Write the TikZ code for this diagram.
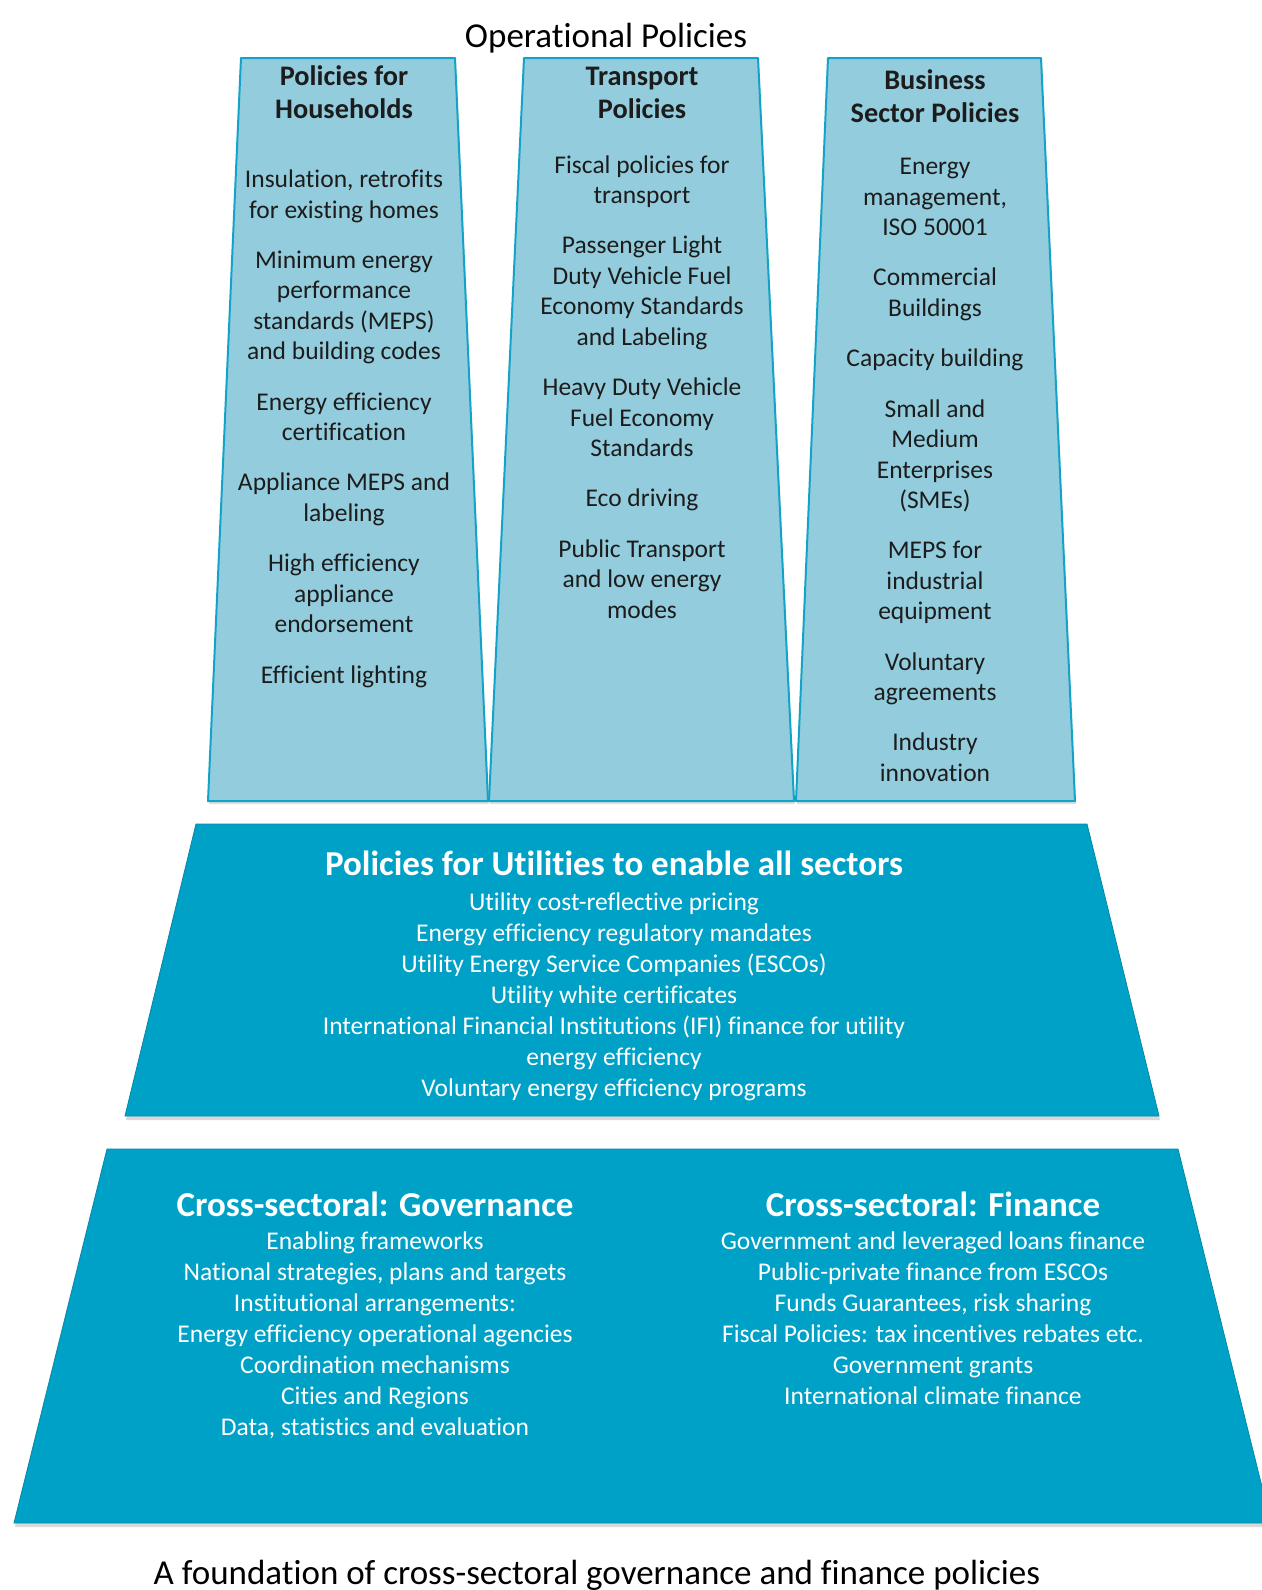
\documentclass[tikz,border=0pt]{standalone}
\usepackage{fontspec}
\setmainfont[Ligatures=NoCommon]{Carlito}
\usetikzlibrary{shadows}

\definecolor{paleteal}{RGB}{147,205,221}
\definecolor{edgeteal}{RGB}{20,163,200}
\definecolor{deepteal}{RGB}{0,161,198}
\definecolor{inkgray}{RGB}{28,28,28}

\tikzset{
  pillar/.style={fill=paleteal, draw=edgeteal, line width=2pt, line join=round,
    drop shadow={shadow xshift=1pt, shadow yshift=-3pt, opacity=.25}},
  slab/.style={fill=deepteal, draw=deepteal!85!black, line width=.8pt,
    drop shadow={shadow xshift=1pt, shadow yshift=-4pt, opacity=.3}},
  colhead/.style={align=center, inner sep=0pt, anchor=base, text=inkgray,
    font=\fontsize{28.3}{33.5}\selectfont\bfseries},
  colitems/.style={align=center, inner sep=0pt, anchor=base, text=inkgray,
    font=\fontsize{25.5}{30.5}\selectfont},
  slabhead/.style={align=center, inner sep=0pt, anchor=base, text=white,
    font=\fontsize{35}{40}\selectfont\bfseries},
  slabitems/.style={align=center, inner sep=0pt, anchor=base, text=white,
    font=\fontsize{25.5}{31}\selectfont},
  caption/.style={inner sep=0pt, anchor=base, text=black,
    font=\fontsize{35}{40}\selectfont}
}

\begin{document}
\begin{tikzpicture}[x=1pt, y=-1pt]
    \useasboundingbox (0,0) rectangle (1261,1590);

    % the three pillars
    \draw[pillar] (241,58) -- (455,58) -- (488,801) -- (208,801) -- cycle;
    \draw[pillar] (524,58) -- (758,58) -- (794,801) -- (489,801) -- cycle;
    \draw[pillar] (828,58) -- (1041,58) -- (1075,801) -- (796,801) -- cycle;

    % utilities and foundation
    \draw[slab] (196,824) -- (1087,824) -- (1159,1116) -- (125,1116) -- cycle;
    \draw[slab] (107,1149) -- (1178,1149) -- (1271,1523) -- (14,1523) -- cycle;

    \node[caption] (title) at (606,47) {Operational Policies};

    % base anchor = baseline of the last line
    \node[colhead] (househead) at (344,118.5) {Policies for\\Households};
    \node[colitems] (houseitems) at (344,683) {Insulation, retrofits\\for existing homes\\[19.8pt]
        Minimum energy\\performance\\standards (MEPS)\\and building codes\\[19.8pt]
        Energy efficiency\\certification\\[19.8pt]
        Appliance MEPS and\\labeling\\[19.8pt]
        High efficiency\\appliance\\endorsement\\[19.8pt]
        Efficient lighting};

    \node[colhead] (transhead) at (642,118.5) {Transport\\Policies};
    \node[colitems] (transitems) at (642,618.2) {Fiscal policies for\\transport\\[19.8pt]
        Passenger Light\\Duty Vehicle Fuel\\Economy Standards\\and Labeling\\[19.8pt]
        Heavy Duty Vehicle\\Fuel Economy\\Standards\\[19.8pt]
        Eco driving\\[19.8pt]
        Public Transport\\and low energy\\modes};

    \node[colhead] (bizhead) at (935,122.5) {Business\\Sector Policies};
    \node[colitems] (bizitems) at (935,781.4) {Energy\\management,\\ISO 50001\\[19.8pt]
        Commercial\\Buildings\\[19.8pt]
        Capacity building\\[19.8pt]
        Small and\\Medium\\Enterprises\\(SMEs)\\[19.8pt]
        MEPS for\\industrial\\equipment\\[19.8pt]
        Voluntary\\agreements\\[19.8pt]
        Industry\\innovation};

    \node[slabhead] (utilhead) at (614,875) {Policies for Utilities to enable all sectors};
    \node[slabitems] (utilitems) at (614,1096.7) {Utility cost-reflective pricing\\
        Energy efficiency regulatory mandates\\
        Utility Energy Service Companies (ESCOs)\\
        Utility white certificates\\
        International Financial Institutions (IFI) finance for utility\\
        energy efficiency\\
        Voluntary energy efficiency programs};

    \node[slabhead] (govhead) at (375,1216) {Cross-sectoral: Governance};
    \node[slabitems] (govitems) at (375,1435.3) {Enabling frameworks\\
        National strategies, plans and targets\\
        Institutional arrangements:\\
        Energy efficiency operational agencies\\
        Coordination mechanisms\\
        Cities and Regions\\
        Data, statistics and evaluation};

    \node[slabhead] (finhead) at (933,1216) {Cross-sectoral: Finance};
    \node[slabitems] (finitems) at (933,1404.9) {Government and leveraged loans finance\\
        Public-private finance from ESCOs\\
        Funds Guarantees, risk sharing\\
        Fiscal Policies: tax incentives rebates etc.\\
        Government grants\\
        International climate finance};

    \node[caption] (footer) at (597,1584) {A foundation of cross-sectoral governance and finance policies};

\end{tikzpicture}
\end{document}
